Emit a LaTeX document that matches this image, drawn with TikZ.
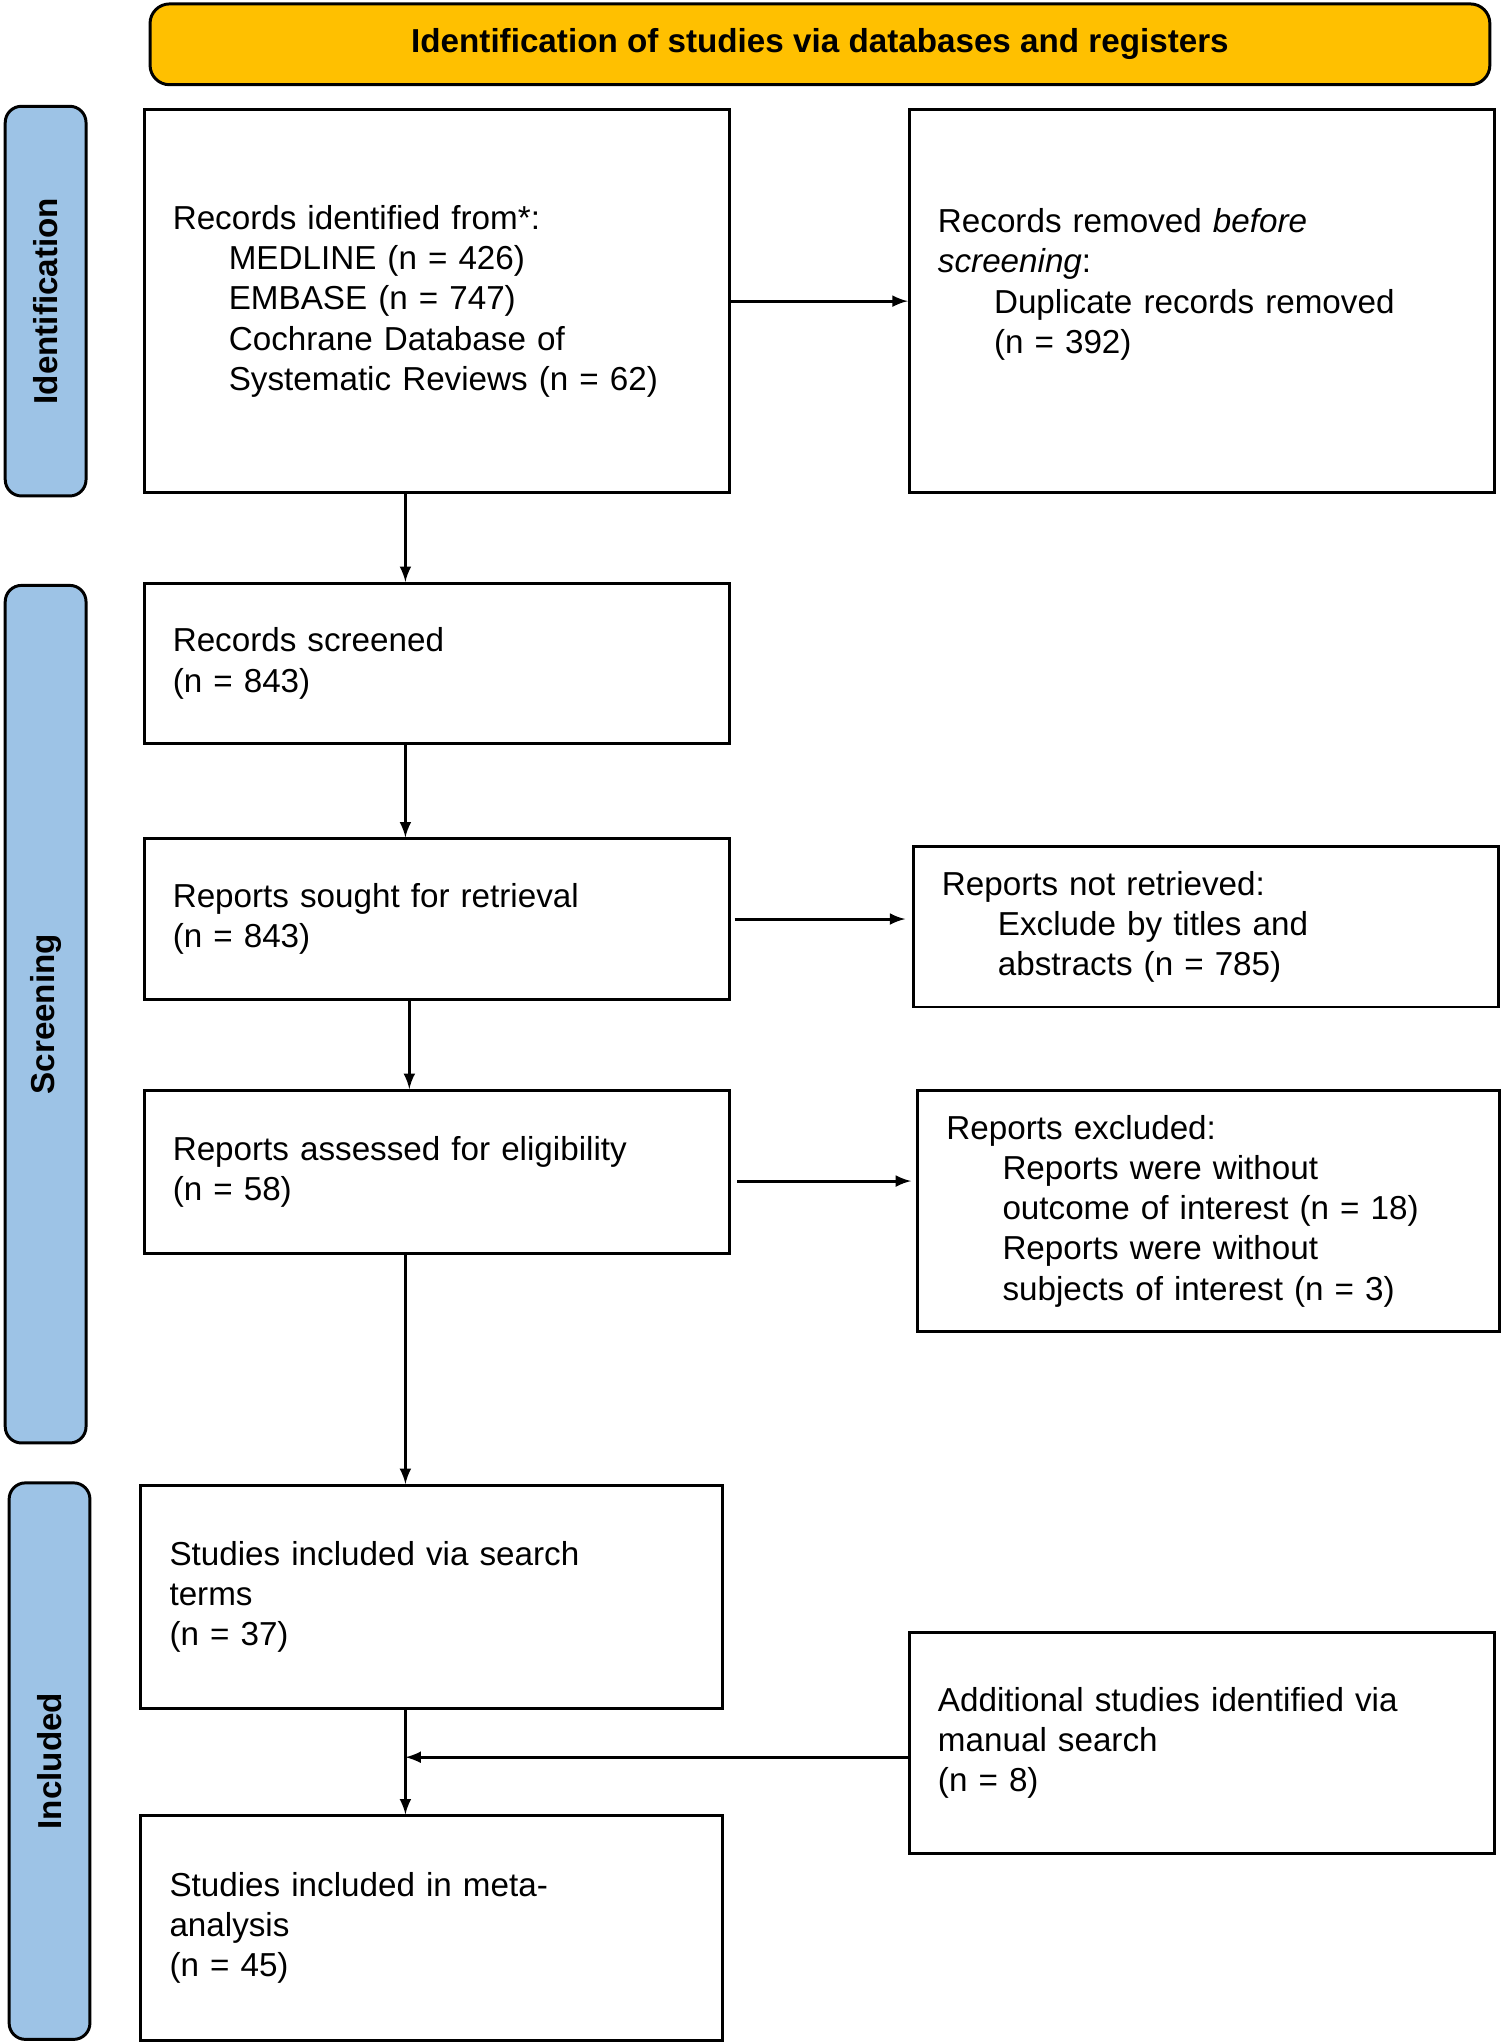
\documentclass[tikz,border=0pt]{standalone}
\usepackage{fontspec}
\setmainfont{Liberation Sans}
\usetikzlibrary{positioning}
\definecolor{headyellow}{HTML}{FFC000}
\definecolor{sideblue}{HTML}{9DC3E6}
\tikzset{
  box/.style={draw, line width=1.3pt, inner xsep=0.44cm, inner ysep=0pt, align=left, font=\fontsize{14.5}{17.6}\selectfont},
  side/.style={draw, line width=1.3pt, fill=sideblue, rounded corners=0.25cm, rotate=90, font=\fontsize{14.5}{17.6}\selectfont\bfseries},
  flow/.style={-latex, line width=1.3pt}
}
\newcommand{\ind}{\hspace*{0.86cm}}
\begin{document}
\begin{tikzpicture}[x=0.02cm, y=-0.02cm]
        \useasboundingbox (0,0) rectangle (1153,1568);
        \node[draw, line width=1.3pt, fill=headyellow, rounded corners=0.3cm, minimum width=20.56cm, minimum height=1.24cm, font=\fontsize{14.5}{17.6}\selectfont\bfseries] (head) at (629,34) {Identification of studies via databases and registers};

        \node[side, minimum width=5.98cm, minimum height=1.24cm] (sid) at (35,231) {Identification};
        \node[side, minimum width=13.16cm, minimum height=1.24cm] (sscr) at (35,778) {Screening};
        \node[side, minimum width=8.54cm, minimum height=1.24cm] (sinc) at (38,1351) {Included};

        \node[box, text width=8.10cm, minimum height=5.88cm] (rec) at (335,231) {Records identified from*:\\\ind MEDLINE (n = 426)\\\ind EMBASE (n = 747)\\\ind Cochrane Database of\\\ind Systematic Reviews (n = 62)};
        \node[box, text width=8.10cm, minimum height=5.88cm] (dup) at (922,231) {Records removed \emph{before}\\\emph{screening}:\\\ind Duplicate records removed\\\ind (n = 392)\\\mbox{}};
        \node[box, text width=8.10cm, minimum height=2.46cm] (scr) at (335,509) {Records screened\\(n = 843)};
        \node[box, text width=8.10cm, minimum height=2.46cm] (sought) at (335,705) {Reports sought for retrieval\\(n = 843)};
        \node[box, text width=8.10cm, minimum height=2.46cm] (notret) at (925,711) {Reports not retrieved:\\\ind Exclude by titles and\\\ind abstracts (n = 785)};
        \node[box, text width=8.10cm, minimum height=2.50cm] (elig) at (335,899) {Reports assessed for eligibility\\(n = 58)};
        \node[box, text width=8.04cm, minimum height=3.70cm] (excl) at (927,929) {Reports excluded:\\\ind Reports were without\\\ind outcome of interest (n = 18)\\\ind Reports were without\\\ind subjects of interest (n = 3)};
        \node[box, text width=8.04cm, minimum height=3.42cm] (incl) at (331,1225) {Studies included via search\\terms\\(n = 37)};
        \node[box, text width=8.10cm, minimum height=3.40cm] (manual) at (922,1337) {Additional studies identified via\\manual search\\(n = 8)};
        \node[box, text width=8.04cm, minimum height=3.44cm] (meta) at (331,1479) {Studies included in meta-\\analysis\\(n = 45)};
        \coordinate (join) at (311,1348);

        \draw[flow] ([xshift=-0.48cm]rec.south) -- ([xshift=-0.48cm]rec.south |- scr.north);
        \draw[flow] ([xshift=-0.48cm]scr.south) -- ([xshift=-0.48cm]scr.south |- sought.north);
        \draw[flow] ([xshift=-0.42cm]sought.south) -- ([xshift=-0.42cm]sought.south |- elig.north);
        \draw[flow] ([xshift=-0.48cm]elig.south) -- ([xshift=-0.48cm]elig.south |- incl.north);
        \draw[flow] (join |- incl.south) -- (join |- meta.north);
        \draw[flow] (manual.west |- join) -- (join);
        \draw[flow] (rec.east) -- (rec.east -| dup.west);
        \draw[flow] ([xshift=0.06cm]sought.east) -- ([xshift=-0.1cm]sought.east -| notret.west);
        \draw[flow] ([xshift=0.1cm, yshift=-0.14cm]elig.east) -- ([xshift=-0.08cm, yshift=-0.14cm]elig.east -| excl.west);
    \end{tikzpicture}
\end{document}
